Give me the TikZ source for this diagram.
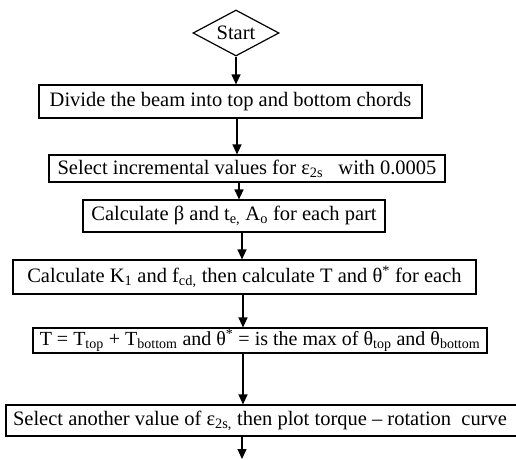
\documentclass[tikz,border=0pt]{standalone}
\usepackage{fontspec}
\setmainfont{Liberation Serif}
\usetikzlibrary{arrows.meta, shapes.geometric}

\begin{document}
\begin{tikzpicture}[
            x=1pt, y=-1pt,
            every node/.style={font=\fontsize{20.5}{24}\selectfont},
            procbox/.style={rectangle, draw, line width=1.2pt, inner sep=0pt, align=center},
            startbox/.style={diamond, draw, line width=1.2pt, inner sep=0pt, aspect=1.87, minimum width=86pt, minimum height=46pt},
            flow/.style={-{Triangle[length=10pt, width=9pt]}, line width=1.2pt}
        ]
            \useasboundingbox (0,0) rectangle (516,459);

            % --- nodes ---
            \node[startbox] (start) at (236,33) {Start};
            \node[procbox, minimum width=383pt, minimum height=33pt] (divide) at (230.5,101.5) {Divide the beam into top and bottom chords};
            \node[procbox, minimum width=396pt, minimum height=27pt] (select) at (247,168.5) {Select incremental values for ε\textsubscript{2s}\ \ \ with 0.0005};
            \node[procbox, minimum width=302pt, minimum height=32pt] (beta) at (234,216) {Calculate β and t\textsubscript{e,} A\textsubscript{o} for each part};
            \node[procbox, minimum width=463pt, minimum height=34pt] (kone) at (244.5,277) {Calculate K\textsubscript{1} and f\textsubscript{cd,} then calculate T and θ\textsuperscript{*}\ for each};
            \node[procbox, minimum width=454pt, minimum height=25pt, font=\fontsize{20}{24}\selectfont] (total) at (260,340.5) {T = T\textsubscript{top} + T\textsubscript{bottom}\ and θ\textsuperscript{*} = is the max of θ\textsubscript{top}\ and θ\textsubscript{bottom}};
            \node[procbox, minimum width=524pt, minimum height=31pt] (another) at (268,420.5) {Select another value of ε\textsubscript{2s,} then plot torque -- rotation\ \ curve\hspace*{16pt}};
            \coordinate (tail) at (242,459);

            % --- arrows ---
            \draw[flow] (start.south) -- (start.south |- divide.north);
            \draw[flow] ([xshift=6.5pt]divide.south) -- ([xshift=6.5pt]divide.south |- select.north);
            \draw[flow] ([xshift=-8pt]select.south) -- ([xshift=-8pt]select.south |- beta.north);
            \draw[flow] ([xshift=8pt]beta.south) -- ([xshift=8pt]beta.south |- kone.north);
            \draw[flow] ([xshift=-1.5pt]kone.south) -- ([xshift=-1.5pt]kone.south |- total.north);
            \draw[flow] ([xshift=-17pt]total.south) -- ([xshift=-17pt]total.south |- another.north);
            \draw[flow] (another.south -| tail) -- (tail);

        \end{tikzpicture}
\end{document}
